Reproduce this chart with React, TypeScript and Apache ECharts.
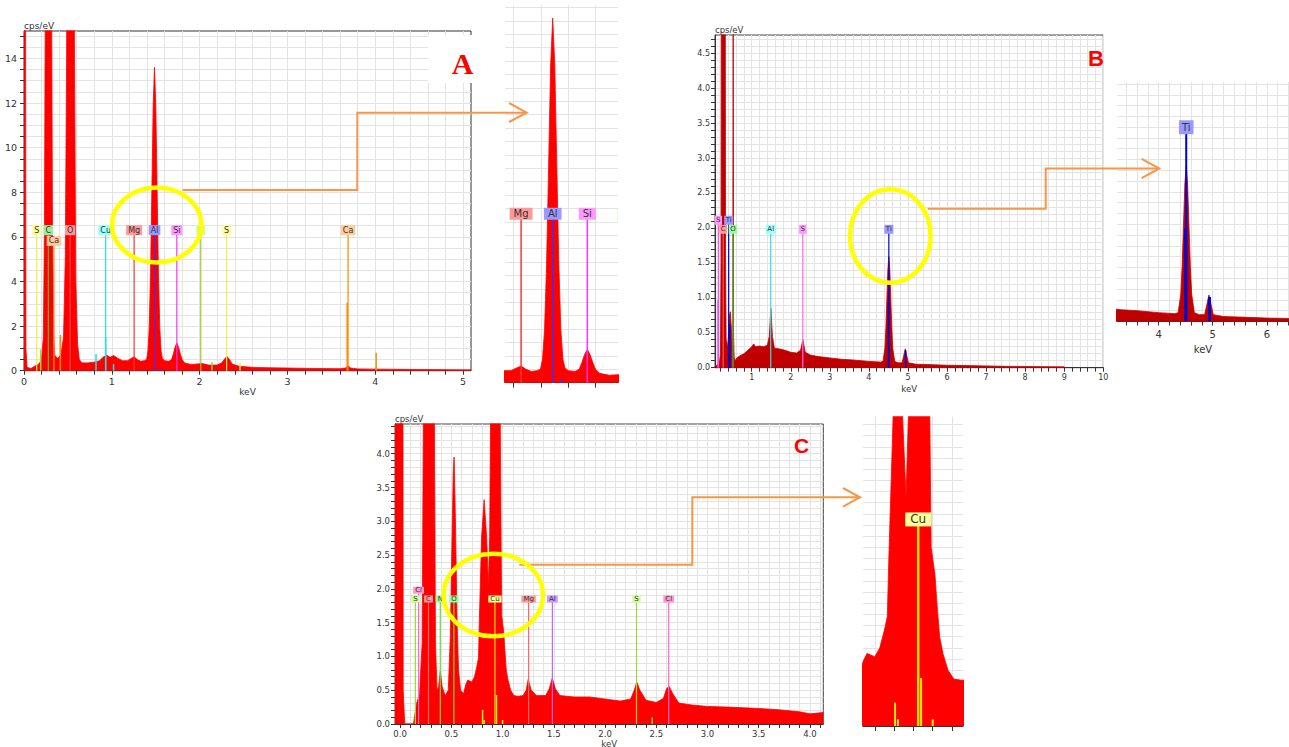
import React, { useEffect, useRef } from 'react';
import * as echarts from 'echarts';

const FONT = '"DejaVu Sans", Verdana, sans-serif';

// ---------------- Spectra (keV, cps/eV) ----------------
const SPEC_A: [number, number][] = [
  [0, 40], [0.012, 40], [0.022, 1.0], [0.035, 0.15], [0.08, 0.1], [0.12, 0.2], [0.17, 0.3], [0.2, 0.5],
  [0.22, 1.5], [0.232, 6], [0.242, 16], [0.28, 60], [0.315, 16], [0.325, 6], [0.34, 1.5], [0.35, 0.7],
  [0.38, 0.55], [0.42, 0.7], [0.45, 1.5], [0.47, 5], [0.485, 14], [0.5, 30], [0.53, 60], [0.56, 30],
  [0.575, 14], [0.59, 4], [0.61, 1.2], [0.63, 0.5], [0.66, 0.35], [0.72, 0.35], [0.8, 0.38], [0.86, 0.45],
  [0.9, 0.6], [0.94, 0.7], [0.98, 0.6], [1.02, 0.68], [1.07, 0.55], [1.12, 0.45], [1.18, 0.45], [1.22, 0.55],
  [1.255, 0.62], [1.29, 0.5], [1.33, 0.42], [1.37, 0.45], [1.396, 0.5], [1.411, 0.87], [1.426, 1.95],
  [1.441, 4.4], [1.456, 8.1], [1.471, 11.9], [1.486, 13.6], [1.501, 11.9], [1.516, 8.1], [1.531, 4.4],
  [1.546, 1.95], [1.561, 0.87], [1.576, 0.55], [1.6, 0.45], [1.65, 0.42], [1.68, 0.5], [1.7, 0.75],
  [1.72, 1.05], [1.74, 1.25], [1.76, 1.05], [1.78, 0.75], [1.8, 0.5], [1.83, 0.35], [1.9, 0.28], [1.97, 0.3],
  [2.03, 0.32], [2.1, 0.25], [2.2, 0.25], [2.25, 0.35], [2.28, 0.5], [2.31, 0.65], [2.34, 0.5], [2.37, 0.3],
  [2.45, 0.2], [2.6, 0.15], [2.8, 0.13], [3.0, 0.12], [3.3, 0.1], [3.6, 0.09], [3.66, 0.12], [3.69, 0.22],
  [3.72, 0.12], [3.8, 0.08], [4.0, 0.07], [4.3, 0.06], [4.6, 0.05], [5.0, 0.04], [5.09, 0.04],
];

const SPEC_B: [number, number][] = [
  [0.06, 0.02], [0.12, 0.04], [0.17, 0.06], [0.2, 0.2], [0.215, 1.5], [0.228, 8], [0.275, 15], [0.318, 8],
  [0.33, 1.5], [0.345, 0.4], [0.38, 0.3], [0.41, 0.5], [0.43, 0.75], [0.455, 0.8], [0.48, 0.55], [0.5, 0.3],
  [0.515, 0.5], [0.525, 6], [0.535, 0.5], [0.55, 0.15], [0.58, 0.1], [0.62, 0.14], [0.7, 0.17], [0.8, 0.2],
  [0.9, 0.25], [1.0, 0.3], [1.05, 0.34], [1.1, 0.3], [1.2, 0.31], [1.3, 0.3], [1.4, 0.32], [1.45, 0.45],
  [1.49, 0.85], [1.53, 0.45], [1.58, 0.28], [1.7, 0.27], [1.85, 0.25], [2.0, 0.22], [2.15, 0.21], [2.25, 0.25],
  [2.31, 0.4], [2.37, 0.22], [2.5, 0.18], [2.7, 0.16], [3.0, 0.14], [3.3, 0.12], [3.6, 0.11], [4.0, 0.09],
  [4.3, 0.08], [4.36, 0.09], [4.41, 0.28], [4.435, 0.57], [4.46, 0.99], [4.485, 1.4], [4.51, 1.59],
  [4.535, 1.4], [4.56, 0.99], [4.585, 0.57], [4.61, 0.28], [4.66, 0.09], [4.75, 0.07], [4.85, 0.07],
  [4.89, 0.17], [4.93, 0.27], [4.97, 0.17], [5.01, 0.07], [5.2, 0.05], [5.5, 0.045], [6.0, 0.035],
  [6.5, 0.03], [7.0, 0.025], [7.5, 0.02], [8.0, 0.018], [8.5, 0.015], [9.0, 0.012], [9.02, 0],
];

const SPEC_C: [number, number][] = [
  [-0.05, 30], [0.012, 30], [0.03, 0.5], [0.045, 0], [0.13, 0], [0.145, 0.15], [0.16, 0.3], [0.19, 0.45],
  [0.215, 1.2], [0.232, 6], [0.245, 12], [0.28, 30], [0.318, 12], [0.33, 6], [0.345, 1.2], [0.36, 0.5],
  [0.375, 0.55], [0.392, 0.78], [0.41, 0.55], [0.44, 0.42], [0.47, 0.5], [0.49, 1.3], [0.505, 2.6],
  [0.518, 3.7], [0.527, 3.95], [0.54, 3.0], [0.555, 1.6], [0.57, 0.8], [0.59, 0.5], [0.62, 0.45],
  [0.64, 0.58], [0.66, 0.65], [0.7, 0.62], [0.726, 0.7], [0.75, 0.86], [0.765, 0.98], [0.772, 1.45],
  [0.795, 2.77], [0.82, 3.32], [0.844, 2.77], [0.862, 2.05], [0.874, 2.77], [0.885, 5], [0.93, 10],
  [0.975, 5], [0.985, 2.77], [0.992, 1.6], [1.012, 1.35], [1.022, 1.1], [1.036, 0.8], [1.053, 0.65],
  [1.079, 0.5], [1.11, 0.42], [1.15, 0.41], [1.2, 0.42], [1.23, 0.5], [1.25, 0.66], [1.28, 0.5],
  [1.33, 0.42], [1.42, 0.42], [1.455, 0.52], [1.485, 0.68], [1.515, 0.52], [1.56, 0.42], [1.7, 0.4],
  [1.85, 0.4], [2.0, 0.37], [2.15, 0.34], [2.25, 0.37], [2.285, 0.5], [2.31, 0.62], [2.34, 0.5],
  [2.4, 0.35], [2.5, 0.32], [2.57, 0.38], [2.6, 0.52], [2.625, 0.56], [2.66, 0.45], [2.72, 0.31],
  [2.85, 0.28], [3.0, 0.26], [3.2, 0.25], [3.5, 0.23], [3.7, 0.21], [3.9, 0.18], [4.0, 0.15], [4.13, 0.17],
];

// ---------------- Element markers ----------------
const A_EL_NAMES = ['S', 'C', 'Ca', 'O', 'Cu', 'Mg', 'Al', 'Si', 'P', 'S', 'Ca'];
const A_EL_KEV = [0.145, 0.277, 0.341, 0.525, 0.93, 1.254, 1.486, 1.74, 2.013, 2.307, 3.69];
const A_EL_LEVEL = [6.3, 6.3, 5.82, 6.3, 6.3, 6.3, 6.3, 6.3, 6.3, 6.3, 6.3];
const A_EL_LINE = ['#f0f040', '#33cc33', '#ff9933', '#ff4444', '#22e0e0', '#ff3333', '#3333ff', '#ff33ff', '#99cc33', '#f0f040', '#ff8800'];
const A_EL_BG = ['#ffff99', '#99ee99', '#ffcc99', '#ff9999', '#99ffff', '#ff9999', '#9999ff', '#ff99ff', '#ccff99', '#ffff99', '#ffcc99'];

const B_EL_NAMES = ['S', 'Ti', 'C', 'O', 'Al', 'S', 'Ti'];
const B_EL_KEV = [0.145, 0.41, 0.27, 0.52, 1.486, 2.307, 4.51];
const B_EL_LEVEL = [2.11, 2.11, 1.98, 1.98, 1.98, 1.98, 1.98];
const B_EL_LINE = ['#ff44ff', '#0000dd', '#ff5555', '#33cc33', '#33dddd', '#ff66ff', '#0000dd'];
const B_EL_BG = ['#ff99ff', '#9999ff', '#ff9999', '#99ff99', '#99ffff', '#ff99ff', '#9999ff'];

const C_EL_NAMES = ['Cl', 'S', 'C', 'N', 'O', 'Cu', 'Mg', 'Al', 'S', 'Cl'];
const C_EL_KEV = [0.18, 0.149, 0.277, 0.392, 0.525, 0.925, 1.254, 1.486, 2.307, 2.621];
const C_EL_LEVEL = [1.98, 1.85, 1.85, 1.85, 1.85, 1.85, 1.85, 1.85, 1.85, 1.85];
const C_EL_LINE = ['#ff66cc', '#99dd33', '#ff6666', '#66dd33', '#66dd33', '#e0e000', '#ff6666', '#bb66ff', '#99dd33', '#ff66cc'];
const C_EL_BG = ['#ff99cc', '#ccff99', '#ff9999', '#99ff99', '#99ff99', '#ffff99', '#ff9999', '#cc99ff', '#ccff99', '#ff99cc'];

// ---------------- Small coloured overlay spikes ----------------
const A_SPIKE_KEV = [0.19, 0.414, 0.82, 0.93, 1.02, 1.55, 2.14, 2.46, 3.68, 4.01];
const A_SPIKE_H = [0.95, 1.6, 0.75, 1.5, 0.3, 0.12, 0.38, 0.35, 3.05, 0.8];
const A_SPIKE_COLOR = ['#99dd33', '#ff8800', '#22e0e0', '#22e0e0', '#22e0e0', '#3333ff', '#66dd33', '#eeee33', '#ff8800', '#ff8800'];

const B_SPIKE_KEV = [0.14, 0.44, 4.5, 4.94];
const B_SPIKE_H = [0.97, 0.62, 0.95, 0.25];
const B_SPIKE_COLOR = ['#ff33ff', '#0000cc', '#0000cc', '#0000cc'];

const C_SPIKE_KEV = [0.805, 0.82, 0.94, 1.0, 2.46];
const C_SPIKE_H = [0.21, 0.06, 0.43, 0.06, 0.1];
const C_SPIKE_COLOR = ['#eeee00', '#eeee00', '#eeee00', '#eeee00', '#66dd33'];

// ---------------- Tick labels ----------------
const A_X_LABELS = [0, 1, 2, 3, 4, 5];
const A_Y_LABELS = [0, 2, 4, 6, 8, 10, 12, 14];
const B_X_LABELS = [1, 2, 3, 4, 5, 6, 7, 8, 9, 10];
const B_Y_LABELS = [0, 0.5, 1, 1.5, 2, 2.5, 3, 3.5, 4, 4.5];
const C_X_LABELS = [0, 0.5, 1, 1.5, 2, 2.5, 3, 3.5, 4];
const C_Y_LABELS = [0, 0.5, 1, 1.5, 2, 2.5, 3, 3.5, 4];
const BI_X_LABELS = [4, 5, 6];

const steps = (a: number, b: number, s: number) => {
  const out: number[] = [];
  const n = Math.round((b - a) / s);
  for (let i = 0; i <= n; i++) out.push(Math.round((a + i * s) * 1000) / 1000);
  return out;
};

const GRID_LINE = '#e3e3e3';
const AX = '#333';

function axis(o: any) {
  return {
    type: 'value',
    gridIndex: o.g,
    min: o.min,
    max: o.max,
    axisLine: { show: o.line !== false, onZero: false, lineStyle: { color: AX, width: 1 } },
    axisTick: {
      show: o.tickShow !== false,
      customValues: o.ticks,
      length: o.tickLen ?? 4,
      lineStyle: { color: AX, width: 1 },
    },
    axisLabel: {
      show: !!o.labels,
      customValues: o.labels || [],
      formatter: o.fmt || ((v: number) => String(v)),
      fontSize: o.fs || 9,
      color: '#333',
      fontFamily: FONT,
      margin: o.margin ?? 6,
    },
    splitLine: { show: true, lineStyle: { color: GRID_LINE, width: 1 } },
    name: o.name || '',
    nameLocation: o.nameLoc || 'middle',
    nameGap: o.nameGap ?? 18,
    nameTextStyle: {
      fontSize: o.nameFs || 9,
      color: '#333',
      fontFamily: FONT,
      align: o.nameAlign,
      verticalAlign: o.nameVAlign,
    },
  };
}

function spectrum(data: [number, number][], color: string, g: number) {
  return {
    type: 'line',
    xAxisIndex: g,
    yAxisIndex: g,
    data,
    showSymbol: false,
    symbol: 'none',
    smooth: false,
    clip: true,
    z: 2,
    lineStyle: { color, width: 0.8 },
    areaStyle: { color, opacity: 1 },
    silent: true,
  };
}

function markers(names: string[], kev: number[], level: number[], lineC: string[], bg: string[], g: number, o: any) {
  return {
    type: 'custom',
    xAxisIndex: g,
    yAxisIndex: g,
    clip: !!o.clip,
    z: 5,
    silent: true,
    data: kev.map((e, i) => [e, level[i]]),
    renderItem: (params: any, api: any) => {
      const i = params.dataIndex;
      const base = api.coord([api.value(0), 0]);
      const top = api.coord([api.value(0), api.value(1)]);
      return {
        type: 'group',
        children: [
          {
            type: 'line',
            shape: { x1: base[0], y1: base[1], x2: top[0], y2: top[1] },
            style: { stroke: lineC[i], lineWidth: o.lw },
          },
          {
            type: 'text',
            x: top[0],
            y: top[1],
            style: {
              text: names[i],
              fill: '#333',
              fontSize: o.fs,
              fontFamily: FONT,
              backgroundColor: bg[i],
              padding: o.pad,
              align: 'center',
              verticalAlign: 'middle',
            },
          },
        ],
      };
    },
  };
}

function spikes(kev: number[], h: number[], colors: string[], g: number, lw: number) {
  return {
    type: 'custom',
    xAxisIndex: g,
    yAxisIndex: g,
    clip: true,
    z: 4,
    silent: true,
    data: kev.map((e, i) => [e, h[i]]),
    renderItem: (params: any, api: any) => {
      const i = params.dataIndex;
      const base = api.coord([api.value(0), 0]);
      const top = api.coord([api.value(0), api.value(1)]);
      return {
        type: 'line',
        shape: { x1: base[0], y1: base[1], x2: top[0], y2: top[1] },
        style: { stroke: colors[i], lineWidth: lw },
      };
    },
  };
}

const ORANGE = '#f79646';
const YELLOW = '#ffff00';

export default function App() {
  const ref = useRef<HTMLDivElement>(null);

  useEffect(() => {
    document.body.style.margin = '0';
    if (!ref.current) return;
    const chart = echarts.init(ref.current, null, { renderer: 'svg' });

    const grids = [
      { left: 24, top: 31, width: 447, height: 339.7, show: true, borderColor: '#333', borderWidth: 1, outerBoundsMode: 'none' },
      { left: 505, top: 5, width: 113, height: 377.7, show: false, outerBoundsMode: 'none' },
      { left: 715, top: 35, width: 388.3, height: 332.7, show: true, borderColor: '#444', borderWidth: 1, outerBoundsMode: 'none' },
      { left: 1117, top: 82, width: 172, height: 239.5, show: false, outerBoundsMode: 'none' },
      { left: 395, top: 424, width: 428.3, height: 300, show: true, borderColor: '#444', borderWidth: 1, outerBoundsMode: 'none' },
      { left: 863, top: 416.7, width: 100, height: 309.3, show: false, outerBoundsMode: 'none' },
    ];

    const one = (v: number) => v.toFixed(1);

    const xAxes = [
      axis({ g: 0, min: 0, max: 5.09, ticks: steps(0, 5, 0.2), labels: A_X_LABELS, fs: 9.5, margin: 6, name: 'keV', nameGap: 17, nameFs: 9 }),
      axis({ g: 1, min: 1.136, max: 1.965, ticks: [1.2, 1.4, 1.6, 1.8], tickLen: 5 }),
      axis({ g: 2, min: 0.06, max: 10, ticks: steps(0.2, 10, 0.2), labels: B_X_LABELS, fs: 8, margin: 6, name: 'keV', nameGap: 17, nameFs: 8.5 }),
      axis({ g: 3, min: 3.23, max: 6.41, ticks: steps(3.4, 6.4, 0.2), labels: BI_X_LABELS, fs: 10, margin: 8, name: 'keV', nameGap: 23, nameFs: 10 }),
      axis({ g: 4, min: -0.05, max: 4.13, ticks: steps(0, 4.1, 0.1), labels: C_X_LABELS, fmt: one, fs: 8.5, margin: 5, name: 'keV', nameGap: 15, nameFs: 8.5 }),
      axis({ g: 5, min: 0.639, max: 1.157, ticks: [0.7, 0.8, 0.9, 1.0, 1.1], tickLen: 5 }),
    ];

    const yAxes = [
      axis({ g: 0, min: 0, max: 15.23, ticks: steps(0, 15, 0.5), labels: A_Y_LABELS, fs: 9.5, margin: 7, name: 'cps/eV', nameLoc: 'end', nameGap: 1, nameFs: 9, nameAlign: 'left', nameVAlign: 'bottom' }),
      axis({ g: 1, min: 0, max: 14.09, ticks: steps(0, 14, 0.5), line: false, tickShow: false }),
      axis({ g: 2, min: 0, max: 4.76, ticks: steps(0, 4.7, 0.1), labels: B_Y_LABELS, fmt: one, fs: 8, margin: 5, name: 'cps/eV', nameLoc: 'end', nameGap: 1, nameFs: 8.5, nameAlign: 'left', nameVAlign: 'bottom' }),
      axis({ g: 3, min: 0, max: 2.44, ticks: steps(0, 2.42, 0.11), line: false, tickShow: false }),
      axis({ g: 4, min: 0, max: 4.44, ticks: steps(0, 4.4, 0.1), labels: C_Y_LABELS, fmt: one, fs: 8.5, margin: 5, name: 'cps/eV', nameLoc: 'end', nameGap: 1, nameFs: 8.5, nameAlign: 'left', nameVAlign: 'bottom' }),
      axis({ g: 5, min: 0, max: 2.77, ticks: steps(0, 2.7, 0.1), line: false, tickShow: false }),
    ];

    const RED = '#ff0000';
    const DARKRED = '#c00000';

    const series: any[] = [
      spectrum(SPEC_A, RED, 0),
      spectrum(SPEC_A, RED, 1),
      spectrum(SPEC_B, DARKRED, 2),
      spectrum(SPEC_B, DARKRED, 3),
      spectrum(SPEC_C, RED, 4),
      spectrum(SPEC_C, RED, 5),
      spikes(A_SPIKE_KEV, A_SPIKE_H, A_SPIKE_COLOR, 0, 1.5),
      spikes(A_SPIKE_KEV, A_SPIKE_H, A_SPIKE_COLOR, 1, 2),
      spikes(B_SPIKE_KEV, B_SPIKE_H, B_SPIKE_COLOR, 2, 1.5),
      spikes(B_SPIKE_KEV, B_SPIKE_H, B_SPIKE_COLOR, 3, 3),
      spikes(C_SPIKE_KEV, C_SPIKE_H, C_SPIKE_COLOR, 4, 1.5),
      spikes(C_SPIKE_KEV, C_SPIKE_H, C_SPIKE_COLOR, 5, 2),
      markers(A_EL_NAMES, A_EL_KEV, A_EL_LEVEL, A_EL_LINE, A_EL_BG, 0, { lw: 1.2, fs: 8, pad: [1, 2] }),
      markers(A_EL_NAMES, A_EL_KEV, A_EL_LEVEL, A_EL_LINE, A_EL_BG, 1, { lw: 1.5, fs: 10, pad: [1, 4], clip: true }),
      markers(B_EL_NAMES, B_EL_KEV, B_EL_LEVEL, B_EL_LINE, B_EL_BG, 2, { lw: 1.2, fs: 7, pad: [1, 1.5] }),
      markers(B_EL_NAMES, B_EL_KEV, B_EL_LEVEL, B_EL_LINE, B_EL_BG, 3, { lw: 2, fs: 10, pad: [2, 3], clip: true }),
      markers(C_EL_NAMES, C_EL_KEV, C_EL_LEVEL, C_EL_LINE, C_EL_BG, 4, { lw: 1.2, fs: 7, pad: [0, 2] }),
      markers(C_EL_NAMES, C_EL_KEV, C_EL_LEVEL, C_EL_LINE, C_EL_BG, 5, { lw: 2.5, fs: 12, pad: [1, 5], clip: true }),
    ];

    const arrowLine = (pts: number[][]) => ({
      type: 'polyline',
      z: 90,
      silent: true,
      shape: { points: pts },
      style: { stroke: ORANGE, lineWidth: 2, fill: null },
    });
    const ellipse = (cx: number, cy: number, rx: number, ry: number) => ({
      type: 'ellipse',
      z: 95,
      silent: true,
      shape: { cx, cy, rx, ry },
      style: { stroke: YELLOW, lineWidth: 4.5, fill: null },
    });

    const graphic: any[] = [
      { type: 'rect', z: 50, silent: true, shape: { x: 428, y: 35, width: 75, height: 48 }, style: { fill: '#ffffff' } },
      { type: 'text', z: 60, silent: true, x: 462.7, y: 63.5, style: { text: 'A', fill: '#ff0000', font: 'bold 30px "Liberation Serif", "Times New Roman", serif', align: 'center', verticalAlign: 'middle' } },
      { type: 'text', z: 60, silent: true, x: 1096, y: 58.5, style: { text: 'B', fill: '#ff0000', font: 'bold 22px "Liberation Sans", Arial, sans-serif', align: 'center', verticalAlign: 'middle' } },
      { type: 'text', z: 60, silent: true, x: 801.7, y: 445, style: { text: 'C', fill: '#ff0000', font: 'bold 21px "Liberation Sans", Arial, sans-serif', align: 'center', verticalAlign: 'middle' } },
      arrowLine([[182.7, 190], [357.3, 190], [357.3, 112.7], [526.7, 112.7]]),
      arrowLine([[509, 103], [526.7, 112.7], [509, 122]]),
      arrowLine([[927.7, 208.7], [1045.7, 208.7], [1045.7, 168.5], [1159.3, 168.5]]),
      arrowLine([[1141.7, 158.8], [1159.3, 168.5], [1141.7, 178.2]]),
      arrowLine([[519.3, 564.7], [692.3, 564.7], [692.3, 497.3], [860, 497.3]]),
      arrowLine([[843, 488], [860, 497.3], [843, 506.6]]),
      ellipse(156.7, 225, 44.7, 37.5),
      ellipse(890.3, 236, 40.3, 46.7),
      ellipse(493.3, 595, 49.7, 41.3),
    ];

    chart.setOption({
      animation: false,
      backgroundColor: '#ffffff',
      textStyle: { fontFamily: FONT },
      grid: grids,
      xAxis: xAxes,
      yAxis: yAxes,
      series,
      graphic,
    });

    return () => chart.dispose();
  }, []);

  return <div ref={ref} style={{ width: 1289, height: 747 }} />;
}
